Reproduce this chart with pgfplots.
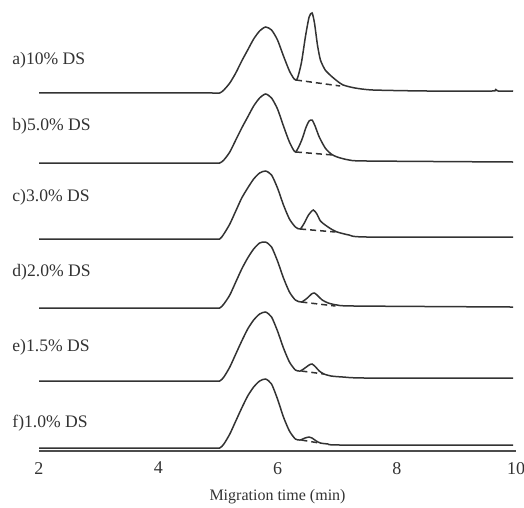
\documentclass[border=0pt]{standalone}
\usepackage{pgfplots}
\pgfplotsset{compat=1.18}
\usepackage{fontspec}
\setmainfont{Liberation Serif}
\begin{document}
\begin{tikzpicture}
\begin{axis}[
 scale only axis, width=238.5pt, height=225.5pt,
 xmin=2, xmax=10, ymin=56, ymax=507,
 axis x line*=bottom, hide y axis,
 xtick={2,4,6,8,10}, major tick length=0pt,
 /pgf/number format/assume math mode=true,
 xticklabel style={font=\fontsize{9}{10}\selectfont, text=black!80, yshift=-2pt},
 xlabel={Migration time (min)},
 xlabel style={font=\fontsize{8}{9}\selectfont, text=black!80, at={(axis description cs:0.5,0)}, anchor=center, yshift=-23pt},
 clip=false,
 axis line style={black!70, line width=0.8pt},
 every axis plot/.append style={black!80, line width=0.75pt},
]
% a) 10% DS
\addplot[smooth, tension=0.4] coordinates {(2.0,414) (4.0,414) (4.9,414) (5.03,414) (5.1,417) (5.2,424) (5.3,434) (5.4,446) (5.5,457) (5.6,468) (5.7,476) (5.8,480) (5.9,477) (6.0,467) (6.1,451) (6.2,436) (6.28,428) (6.33,428) (6.40,444) (6.47,471) (6.53,490) (6.58,494) (6.62,484) (6.67,462) (6.72,447) (6.8,437) (6.9,431) (7.0,426) (7.1,422) (7.3,419) (7.6,417) (8.5,416) (9.6,416) (9.65,418) (9.7,416) (9.95,416)};
\addplot[densely dashed, sharp plot] coordinates {(6.31,427) (7.05,421)};
% b) 5.0% DS
\addplot[smooth, tension=0.4] coordinates {(2.0,344) (4.0,344) (4.9,344) (5.03,344) (5.1,347) (5.2,355) (5.3,367) (5.4,379) (5.5,390) (5.6,401) (5.7,409) (5.8,413) (5.9,409) (6.0,398) (6.1,381) (6.2,365) (6.3,355) (6.4,366) (6.48,380) (6.53,386) (6.58,387) (6.63,381) (6.7,370) (6.8,359) (6.9,353) (7.0,350) (7.2,347) (7.5,346) (9.95,345)};
\addplot[densely dashed, sharp plot] coordinates {(6.31,355) (6.93,352)};
% c) 3.0% DS
\addplot[smooth, tension=0.4] coordinates {(2.0,268) (4.0,268) (4.9,268) (5.03,268) (5.1,273) (5.2,283) (5.3,296) (5.4,309) (5.5,319) (5.6,328) (5.7,334) (5.8,336) (5.9,332) (6.0,319) (6.1,302) (6.2,288) (6.3,280) (6.38,278) (6.45,284) (6.52,292) (6.60,297) (6.66,293) (6.72,286) (6.8,282) (6.9,278) (7.0,275) (7.2,272) (7.5,270) (9.95,270)};
\addplot[densely dashed, sharp plot] coordinates {(6.38,278) (6.97,275)};
% d) 2.0% DS
\addplot[smooth, tension=0.4] coordinates {(2.0,199) (4.0,199) (4.9,199) (5.03,199) (5.1,203) (5.2,212) (5.3,225) (5.4,238) (5.5,249) (5.6,258) (5.7,264) (5.8,265) (5.9,260) (6.0,246) (6.1,229) (6.2,215) (6.3,207) (6.4,205) (6.5,209) (6.57,213) (6.62,214) (6.68,211) (6.75,207) (6.85,204) (7.0,202) (7.3,201) (9.95,200)};
\addplot[densely dashed, sharp plot] coordinates {(6.40,205) (6.97,201)};
% e) 1.5% DS
\addplot[smooth, tension=0.4] coordinates {(2.0,126) (4.0,126) (4.9,126) (5.03,126) (5.1,130) (5.2,140) (5.3,153) (5.4,166) (5.5,178) (5.6,187) (5.7,193) (5.8,195) (5.9,190) (6.0,176) (6.1,159) (6.2,145) (6.3,137) (6.38,136) (6.46,139) (6.53,142) (6.58,143) (6.64,140) (6.7,136) (6.78,133) (6.9,131) (7.1,130) (7.5,129) (9.95,129)};
\addplot[densely dashed, sharp plot] coordinates {(6.40,136) (6.78,133)};
% f) 1.0% DS
\addplot[smooth, tension=0.4] coordinates {(2.0,59) (4.0,59) (4.9,59) (5.03,59) (5.1,63) (5.2,73) (5.3,86) (5.4,99) (5.5,111) (5.6,120) (5.7,126) (5.8,128) (5.9,123) (6.0,108) (6.1,90) (6.2,76) (6.3,68) (6.38,67) (6.46,69) (6.53,70) (6.58,69) (6.65,66) (6.72,64) (6.85,63) (7.1,62) (9.95,62)};
\addplot[densely dashed, sharp plot] coordinates {(6.40,67) (6.70,64)};
% labels
\begin{scope}[every node/.style={anchor=west, inner sep=0pt, font=\fontsize{8.8}{10}\selectfont, text=black!80}]
\node at (axis cs:1.547,447) {a)10\% DS};
\node at (axis cs:1.547,381) {b)5.0\% DS};
\node at (axis cs:1.547,310) {c)3.0\% DS};
\node at (axis cs:1.547,235) {d)2.0\% DS};
\node at (axis cs:1.547,160) {e)1.5\% DS};
\node at (axis cs:1.547,84) {f)1.0\% DS};
\end{scope}
\coordinate (bl) at (axis cs:1.3459,0);
\coordinate (tr) at (axis cs:10.134,507);
\end{axis}
\pgfresetboundingbox
\path[use as bounding box] (bl) rectangle (tr);
\end{tikzpicture}
\end{document}
